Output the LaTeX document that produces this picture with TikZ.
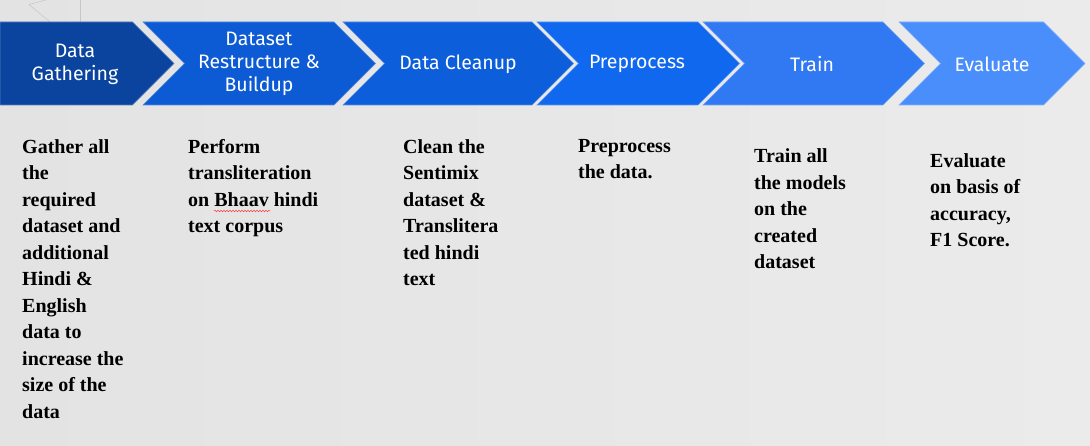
\documentclass[tikz,border=0pt]{standalone}
\usepackage{fontspec}
\setmainfont{Liberation Serif}
\newfontfamily\labelfont{Fira Sans}
\usetikzlibrary{decorations.pathmorphing}
\definecolor{bgA}{HTML}{E3E3E3}
\definecolor{bgB}{HTML}{EBEBEB}
\definecolor{cA}{HTML}{0A449F}
\definecolor{cB}{HTML}{0C5AD4}
\definecolor{cC}{HTML}{0D5EDA}
\definecolor{cD}{HTML}{1068EF}
\definecolor{cE}{HTML}{3179F2}
\definecolor{cF}{HTML}{4A8EFC}
\tikzset{
  chev/.style={fill=#1, draw=#1!70!white, line width=0.6pt},
  steplabel/.style={text=white, font=\labelfont\fontsize{19.5}{23}\selectfont, align=center, inner sep=0pt},
  desc/.style={text=black, font=\bfseries\fontsize{20}{26.5}\selectfont, align=left, anchor=north west, inner sep=0pt},
  deco/.style={draw=gray!45, line width=0.5pt}
}
\newcommand{\chevfirst}[3]{% left, right, colour
  \path[chev=#3] (#1,22) -- (#2,22) -- (#2+41.5,63.5) -- (#2,105) -- (#1,105) -- cycle;}
\newcommand{\chevmid}[3]{%
  \path[chev=#3] (#1,22) -- (#2,22) -- (#2+41.5,63.5) -- (#2,105) -- (#1,105) -- (#1+41.5,63.5) -- cycle;}
\begin{document}
\begin{tikzpicture}[x=1pt,y=-1pt]
\useasboundingbox (0,0) rectangle (1090,446);
\shade[left color=bgA, right color=bgB] (0,0) rectangle (1090,446);
% faint background decoration
\coordinate (d1) at (29,4.5);
\coordinate (d2) at (46,0);
\coordinate (d3) at (50,22);
\coordinate (d4) at (80,0);
\coordinate (d5) at (80,22);
\draw[deco] (d2) -- (d1) -- (d3);
\draw[deco] (d4) -- (d5);
% chevrons
\chevfirst{0}{132.5}{cA}
\chevmid{143}{334}{cB}
\chevmid{343}{532}{cC}
\chevmid{537}{698}{cD}
\chevmid{703}{883}{cE}
\chevmid{899}{1043.5}{cF}
% labels
\node[steplabel] (l1) at (75,64) {Data\\Gathering};
\node[steplabel] (l2) at (259,64) {Dataset\\Restructure \&\\Buildup};
\node[steplabel] (l3) at (458,64) {Data Cleanup};
\node[steplabel] (l4) at (637,64) {Preprocess};
\node[steplabel] (l5) at (812,64) {Train};
\node[steplabel] (l6) at (992,64) {Evaluate};
% descriptions
\node[desc] (t1) at (22,139) {Gather all\\the\\required\\dataset and\\additional\\Hindi \&\\English\\data to\\increase the\\size of the\\data};
\node[desc] (t2) at (188,139) {Perform\\transliteration\\on Bhaav hindi\\text corpus};
\node[desc] (t3) at (403,139) {Clean the\\Sentimix\\dataset \&\\Translitera\\ted hindi\\text};
\node[desc] (t4) at (578,139) {Preprocess\\the data.};
\node[desc] (t5) at (754,148.5) {Train all\\the models\\on the\\created\\dataset};
\node[desc] (t6) at (930,153) {Evaluate\\on basis of\\accuracy,\\F1 Score.};
% spell-check squiggle under "Bhaav"
\coordinate (s1) at (214,211);
\coordinate (s2) at (270,211);
\draw[red!75, line width=0.5pt, decorate, decoration={snake, amplitude=0.8pt, segment length=3pt}] (s1) -- (s2);
\end{tikzpicture}
\end{document}
